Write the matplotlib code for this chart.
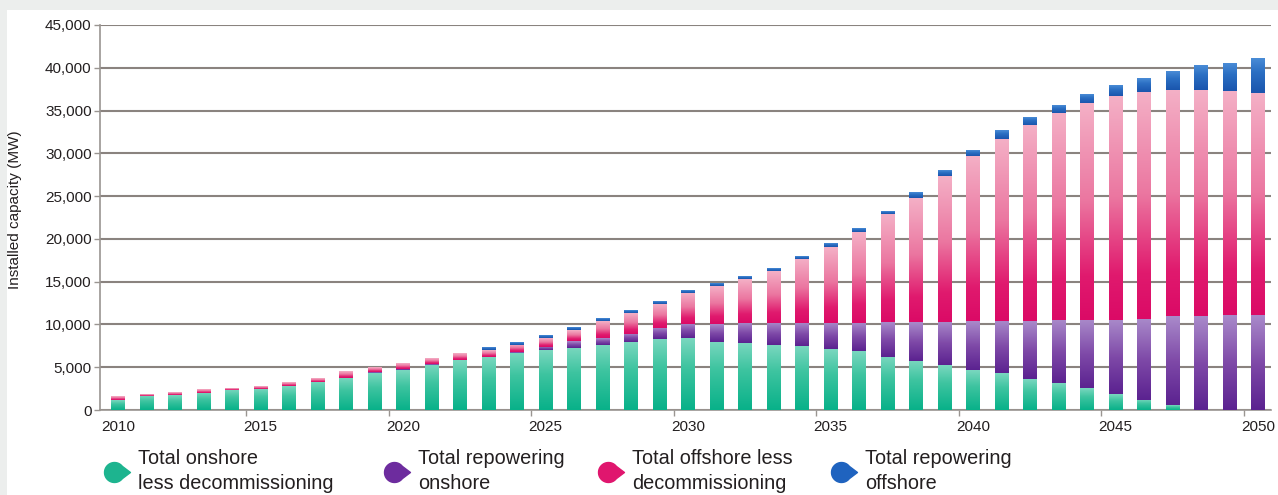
import numpy as np
import matplotlib
matplotlib.use("Agg")
import matplotlib.pyplot as plt
from matplotlib.colors import LinearSegmentedColormap
from matplotlib.path import Path
from matplotlib.lines import Line2D
from matplotlib.patches import Rectangle
from matplotlib.ticker import FuncFormatter, FixedLocator

# ---------------- data (MW) ----------------
years = list(range(2010, 2051))
onshore = [1150, 1650, 1700, 2000, 2380, 2500, 2750, 3300, 3750, 4300,
           4650, 5300, 5800, 6150, 6700, 7000, 7250, 7650, 7900, 8300,
           8400, 8000, 7850, 7590, 7470, 7100, 6890, 6230, 5760, 5250,
           4660, 4270, 3610, 3110, 2520, 1860, 1170, 580, 0, 0, 0]
repower_onshore = [0, 0, 0, 0, 0, 0, 0, 0, 0, 100,
                   150, 100, 100, 100, 100, 380, 800, 750, 1000, 1300,
                   1650, 2040, 2340, 2600, 2720, 3090, 3300, 4080, 4550, 5050,
                   5710, 6100, 6760, 7450, 8040, 8700, 9510, 10370, 10950, 11070, 11070]
offshore = [400, 200, 250, 450, 170, 300, 450, 450, 750, 550,
            650, 650, 750, 800, 850, 1050, 1250, 1950, 2450, 2800,
            3600, 4430, 5110, 6010, 7510, 8880, 10630, 12570, 14480, 17040,
            19330, 21280, 22910, 24200, 25360, 26140, 26520, 26410, 26410, 26210, 25930]
repower_offshore = [0, 0, 0, 0, 0, 0, 0, 0, 0, 0,
                    0, 0, 0, 250, 270, 280, 300, 250, 280, 320,
                    300, 280, 260, 320, 290, 430, 380, 270, 700, 640,
                    700, 970, 890, 850, 970, 1240, 1560, 2140, 2840, 3190, 4090]
series_labels = ["Total onshore\nless decommissioning",
                 "Total repowering\nonshore",
                 "Total offshore less\ndecommissioning",
                 "Total repowering\noffshore"]
label_years = [2010, 2015, 2020, 2025, 2030, 2035, 2040, 2045, 2050]
y_ticks = [0, 5000, 10000, 15000, 20000, 25000, 30000, 35000, 40000, 45000]
y_label = "Installed capacity (MW)"

# ---------------- style ----------------
FONT = ["Liberation Sans", "DejaVu Sans"]
plt.rcParams["font.family"] = FONT
TXT = "#231f20"
GRID = "#8a837f"

grad_stops = [
    [(0.0, "#08b189"), (0.6, "#3ec4a0"), (1.0, "#7ad7bf")],
    [(0.0, "#5b2290"), (0.5, "#7f4aa8"), (1.0, "#a98aca")],
    [(0.0, "#db0a66"), (0.2, "#e01a6e"), (0.55, "#eb76a0"), (1.0, "#f4b0c6")],
    [(0.0, "#1a55ad"), (0.6, "#2b6fc3"), (1.0, "#4a8cd6")],
]
legend_colors = ["#1db48f", "#6d2c9e", "#e0166e", "#1f63bf"]
cmaps = [LinearSegmentedColormap.from_list(f"g{i}", s) for i, s in enumerate(grad_stops)]

W, H = 1278, 495
fig = plt.figure(figsize=(W / 100, H / 100), dpi=100)
fig.patch.set_facecolor("white")
# light grey frame (top & left)
fig.patches.append(Rectangle((0, 1 - 10 / H), 1, 10 / H, transform=fig.transFigure,
                             facecolor="#eceeed", edgecolor="none", zorder=0))
fig.patches.append(Rectangle((0, 0), 7 / W, 1, transform=fig.transFigure,
                             facecolor="#eceeed", edgecolor="none", zorder=0))

ax = fig.add_axes([100 / W, (H - 410) / H, 1171 / W, 385 / H])
ax.set_facecolor("none")

series = [onshore, repower_onshore, offshore, repower_offshore]
bottom = np.zeros(len(years))
containers = []
for vals in series:
    c = ax.bar(years, vals, width=0.47, bottom=bottom, color="none",
               edgecolor="none", zorder=3)
    containers.append(c)
    bottom = bottom + np.array(vals, dtype=float)

# vertical gradient fill of each segment, derived from the bar patches
grad = np.linspace(0, 1, 128).reshape(-1, 1)
for cont, cmap in zip(containers, cmaps):
    for rect in cont.patches:
        h = rect.get_height()
        if h <= 0:
            continue
        x0, y0, w = rect.get_x(), rect.get_y(), rect.get_width()
        ax.imshow(grad, extent=[x0, x0 + w, y0, y0 + h], origin="lower",
                  cmap=cmap, aspect="auto", interpolation="bilinear", zorder=3)

ax.set_xlim(2009.37, 2050.46)
ax.set_ylim(0, 45000)

# grid / spines
ax.yaxis.set_major_locator(FixedLocator(y_ticks))
ax.yaxis.set_major_formatter(FuncFormatter(lambda v, p: f"{int(v):,}"))
ax.grid(axis="y", color=GRID, linewidth=1.5, zorder=1)
ax.set_axisbelow(True)
for s in ["top", "right"]:
    ax.spines[s].set_visible(False)
for s in ["left", "bottom"]:
    ax.spines[s].set_color("#9a9591")
    ax.spines[s].set_linewidth(1.2)

ax.xaxis.set_major_locator(FixedLocator(label_years))
ax.xaxis.set_major_formatter(FuncFormatter(lambda v, p: f"{int(round(v))}"))
ax.xaxis.set_minor_locator(FixedLocator([y - 0.5 for y in label_years[1:]]))
ax.tick_params(axis="x", which="major", length=0, pad=7, labelsize=11, labelcolor=TXT)
ax.tick_params(axis="x", which="minor", length=4, width=1, color="#9a9591", direction="out")
ax.tick_params(axis="y", length=4, width=1, color="#9a9591", pad=2, labelsize=11, labelcolor=TXT)

ax.set_ylabel(y_label, fontsize=11, color=TXT)
ax.yaxis.set_label_coords(-0.0666, 0.52)

# ---------------- legend ----------------
t = np.linspace(np.radians(38), np.radians(322), 40)
verts = [(np.cos(a), np.sin(a)) for a in t] + [(1.6, 0.0), (np.cos(t[0]), np.sin(t[0]))]
codes = [Path.MOVETO] + [Path.LINETO] * (len(verts) - 2) + [Path.CLOSEPOLY]
drop = Path(verts, codes)

leg_x = [99, 379, 593, 826]
for i, (lab, col) in enumerate(zip(series_labels, legend_colors)):
    h = Line2D([], [], marker=drop, markersize=23, color=col, linestyle="none")
    leg = fig.legend([h], [lab], loc="center left",
                     bbox_to_anchor=(leg_x[i] / W, (H - 471) / H),
                     frameon=False, fontsize=14.3, handlelength=1.5,
                     handletextpad=0.45, borderpad=0, borderaxespad=0)
    for txt in leg.get_texts():
        txt.set_color(TXT)
        txt.set_linespacing(1.38)

fig.savefig("out.png", dpi=100, facecolor=fig.get_facecolor())
